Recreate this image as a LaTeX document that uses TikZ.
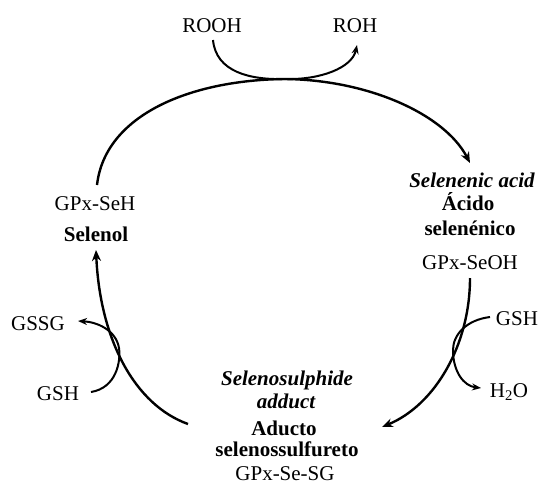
\documentclass[tikz,border=0pt]{standalone}
\usepackage{fontspec}
\setmainfont{Liberation Serif}
\usetikzlibrary{arrows.meta}
\begin{document}
\begin{tikzpicture}[x=1pt,y=-1pt,
  lbl/.style={font=\fontsize{21}{22}\selectfont, inner sep=0pt, anchor=base},
  blbl/.style={lbl, font=\fontsize{21}{22}\selectfont\bfseries},
  ilbl/.style={lbl, font=\fontsize{21}{22}\selectfont\bfseries\itshape},
  mainarr/.style={line width=2.4pt, -{Stealth[length=11pt,width=9pt]}},
  sidearr/.style={line width=2pt, -{Stealth[length=9pt,width=7pt]}}]
\useasboundingbox (0,0) rectangle (541,483);
% labels
\node[lbl] (rooh) at (212,32) {ROOH};
\node[lbl] (roh) at (355,32) {ROH};
\node[lbl] (seh) at (95,210) {GPx-SeH};
\node[blbl] (selenol) at (96,241) {Selenol};
\node[ilbl] (acid) at (472,187) {Selenenic acid};
\node[blbl] (acido) at (468,210) {Ácido};
\node[blbl] (selenenico) at (470,235) {selenénico};
\node[lbl] (seoh) at (470,269) {GPx-SeOH};
\node[ilbl] (sulph) at (287,385) {Selenosulphide};
\node[ilbl] (adduct) at (286,408) {adduct};
\node[blbl] (aducto) at (284,435) {Aducto};
\node[blbl] (sulfur) at (287,456) {selenossulfureto};
\node[lbl] (sesg) at (285,480) {GPx-Se-SG};
\node[lbl] (gssg) at (38,330) {GSSG};
\node[lbl] (gshl) at (58,400) {GSH};
\node[lbl] (gshr) at (517,325) {GSH};
\node[lbl] (water) at (509,397) {H\textsubscript{2}O};
% coordinates
\coordinate (t0) at (97,185);
\coordinate (tm) at (285,79);
\coordinate (t1) at (470,163);
\coordinate (r0) at (213,40);
\coordinate (r1) at (357,45);
\coordinate (s0) at (470,278);
\coordinate (s1) at (382,427);
\coordinate (g0) at (490,317);
\coordinate (gc) at (453,350);
\coordinate (h1) at (481,388);
\coordinate (b0) at (188,424);
\coordinate (b1) at (96,250);
\coordinate (l0) at (91,392);
\coordinate (lc) at (119,348);
\coordinate (l1) at (78,321);
% cycle
\draw[mainarr] (t0) .. controls (105,115) and (190,80) .. (tm) .. controls (370,80) and (445,115) .. (t1);
\draw[sidearr] (r0) .. controls (216,72) and (250,80) .. (tm) .. controls (320,80) and (352,68) .. (r1);
\draw[mainarr] (s0) .. controls (470,345) and (435,405) .. (s1);
\draw[sidearr] (g0) .. controls (466,320) and (453,335) .. (gc) .. controls (453,372) and (464,386) .. (h1);
\draw[mainarr] (b0) .. controls (135,405) and (100,340) .. (b1);
\draw[sidearr] (l0) .. controls (116,388) and (121,362) .. (lc) .. controls (116,330) and (97,322) .. (l1);
\end{tikzpicture}
\end{document}
